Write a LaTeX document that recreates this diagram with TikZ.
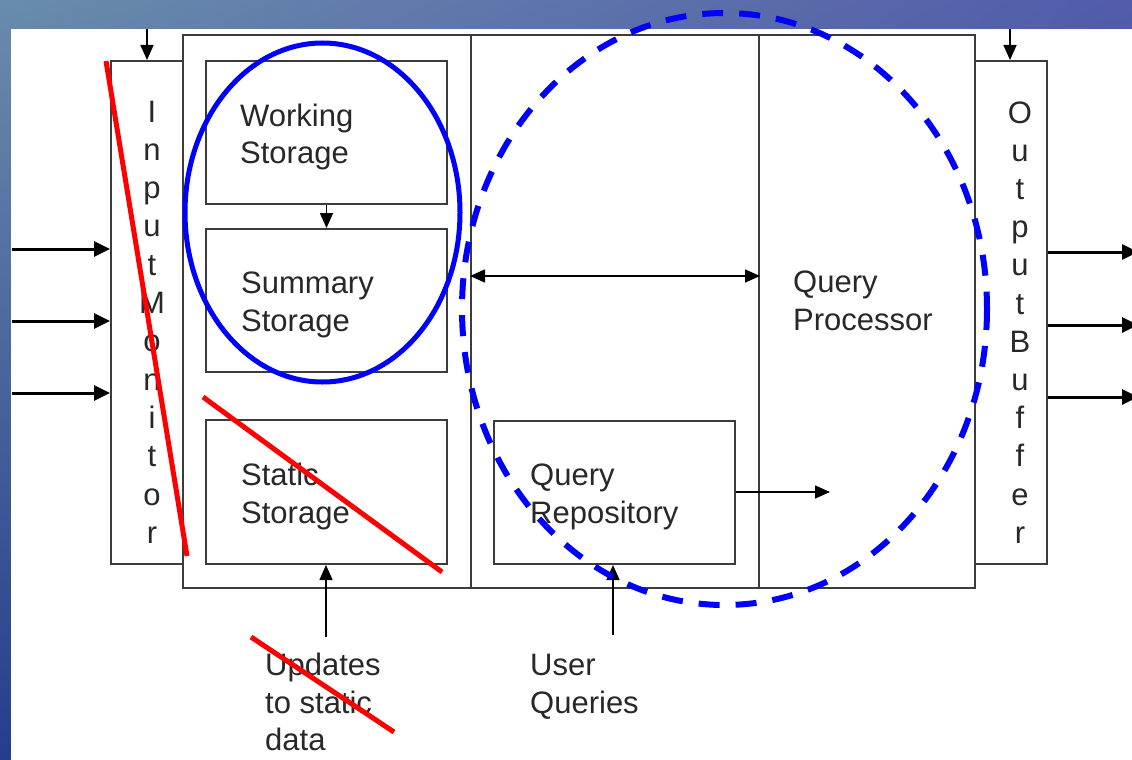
\documentclass[tikz,border=0pt]{standalone}
\usepackage{fontspec}
\setmainfont{Liberation Sans}
\usetikzlibrary{arrows.meta,shadings}
\definecolor{bgUL}{RGB}{105,140,172}
\definecolor{bgUR}{RGB}{82,92,170}
\definecolor{bgLL}{RGB}{35,62,140}
\definecolor{bgLR}{RGB}{40,60,150}
\definecolor{boxgray}{RGB}{60,60,60}
\definecolor{txtgray}{RGB}{40,40,40}
\tikzset{
  box/.style={draw=boxgray, line width=2pt, inner sep=0pt, anchor=north west},
  lbl/.style={anchor=base west, inner sep=0pt, text=txtgray, font=\fontsize{31}{38}\selectfont},
  vlbl/.style={anchor=base, inner sep=0pt, text=txtgray, font=\fontsize{31}{38}\selectfont},
  thinarr/.style={draw=black, line width=1.6pt, -{Triangle[length=15pt,width=13pt]}},
  thickarr/.style={draw=black, line width=3pt, -{Triangle[length=16pt,width=15pt]}},
  solidring/.style={draw=blue, line width=5pt},
  dashring/.style={draw=blue, line width=6pt, dash pattern=on 21pt off 16pt},
  strike/.style={draw=red, line width=5pt}
}
\begin{document}
\begin{tikzpicture}[x=1pt,y=-1pt]
\useasboundingbox (0,0) rectangle (1132,760);
% slide background
\shade[upper left=bgUL, upper right=bgUR, lower left=bgLL, lower right=bgLR] (0,0) rectangle (1132,760);
\fill[white] (11,29) rectangle (1132,760);

% boxes
\node[box, minimum width=72pt, minimum height=503pt] (inmon) at (110,60) {};
\node[box, minimum width=288pt, minimum height=553pt] (storecol) at (182,34) {};
\node[box, minimum width=288pt, minimum height=553pt] (midcol) at (470,34) {};
\node[box, minimum width=216pt, minimum height=553pt] (qproc) at (758,34) {};
\node[box, minimum width=72pt, minimum height=503pt] (outbuf) at (974,60) {};
\node[box, minimum width=241pt, minimum height=143pt] (ws) at (205,60) {};
\node[box, minimum width=241pt, minimum height=143pt] (ss) at (205,228) {};
\node[box, minimum width=241pt, minimum height=144pt] (static) at (205,419) {};
\node[box, minimum width=241pt, minimum height=143pt] (qr) at (493,420) {};

% texts
\node[lbl] (ws1) at (240,126) {Working};
\node[lbl] (ws2) at (240,163) {Storage};
\node[lbl] (ss1) at (241,293) {Summary};
\node[lbl] (ss2) at (241,331) {Storage};
\node[lbl] (st1) at (241,485) {Static};
\node[lbl] (st2) at (241,523) {Storage};
\node[lbl] (qr1) at (530,485) {Query};
\node[lbl] (qr2) at (530,523) {Repository};
\node[lbl] (qp1) at (793,292) {Query};
\node[lbl] (qp2) at (793,330) {Processor};
\node[lbl] (up1) at (265,675) {Updates};
\node[lbl] (up2) at (265,713) {to static};
\node[lbl] (up3) at (265,750) {data};
\node[lbl] (uq1) at (530,675) {User};
\node[lbl] (uq2) at (530,713) {Queries};
\foreach \l [count=\i from 0] in {I,n,p,u,t,M,o,n,i,t,o,r}
  \node[vlbl] (inl\i) at (152,122+38.3*\i) {\l};
\foreach \l [count=\i from 0] in {O,u,t,p,u,t,B,u,f,f,e,r}
  \node[vlbl] (outl\i) at (1020,123+38.2*\i) {\l};

% connectors
\coordinate (topin) at (147,29);
\coordinate (topout) at (1010,29);
\draw[thinarr] (topin) -- (topin |- inmon.north);
\draw[thinarr] (topout) -- (topout |- outbuf.north);
\draw[thinarr] (ws.south) -- (ss.north);
\coordinate (dy) at (0,276);
\draw[thinarr, {Triangle[length=15pt,width=13pt]}-{Triangle[length=15pt,width=13pt]}] (midcol.west |- dy) -- (midcol.east |- dy);
\coordinate (qrend) at (830,492);
\draw[thinarr] (qr.east |- qrend) -- (qrend);
\coordinate (updstart) at (326,637);
\draw[thinarr] (updstart) -- (updstart |- static.south);
\coordinate (uqstart) at (613,635);
\draw[thinarr] (uqstart) -- (uqstart |- qr.south);
\foreach \y [count=\i] in {249,321,393} {
  \coordinate (in\i) at (12,\y);
  \draw[thickarr] (in\i) -- (in\i -| inmon.west);
}
\foreach \y [count=\i] in {252,325,397} {
  \coordinate (out\i) at (1138,\y);
  \draw[thickarr] (outbuf.east |- out\i) -- (out\i);
}

% annotations
\draw[solidring] (322.5,212.5) ellipse [x radius=137.5, y radius=169.5];
\draw[dashring] (724.5,309) ellipse [x radius=262.5, y radius=296];
\draw[strike] (106,61) -- (187,556);
\draw[strike] (203,397) -- (442,572);
\draw[strike] (251,637) -- (394,732);
\end{tikzpicture}
\end{document}
